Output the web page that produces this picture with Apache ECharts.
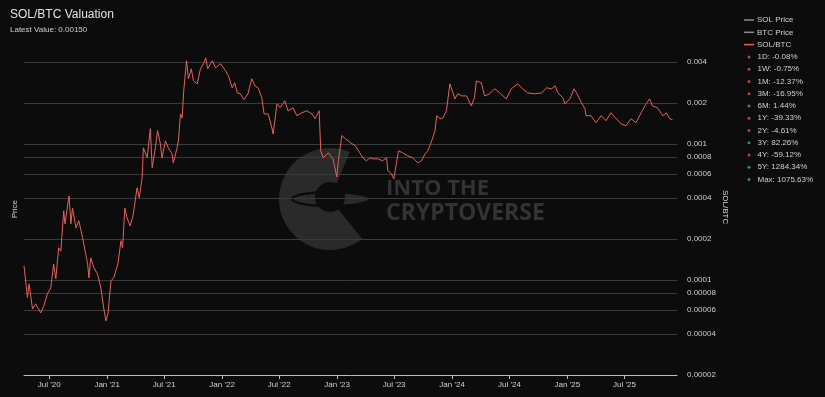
<!DOCTYPE html>
<html><head><meta charset="utf-8">
<script src="https://cdn.jsdelivr.net/npm/echarts@6/dist/echarts.min.js"></script>
<style>html,body{margin:0;padding:0;background:#0c0c0d}#c{width:825px;height:397px}</style>
</head><body><div id="c"></div>
<script>
const dates = ['2020-04-12','2020-04-23','2020-04-28','2020-05-09','2020-05-19','2020-06-04','2020-06-14','2020-06-25','2020-07-06','2020-07-15','2020-07-22','2020-07-31','2020-08-07','2020-08-16','2020-08-20','2020-09-02','2020-09-08','2020-09-13','2020-09-24','2020-10-03','2020-10-15','2020-10-31','2020-11-04','2020-11-10','2020-11-20','2020-12-01','2020-12-12','2020-12-21','2020-12-28','2021-01-04','2021-01-13','2021-01-22','2021-02-04','2021-02-14','2021-02-19','2021-02-26','2021-03-05','2021-03-15','2021-03-24','2021-04-06','2021-04-13','2021-04-22','2021-04-26','2021-05-08','2021-05-18','2021-05-24','2021-06-03','2021-06-10','2021-06-19','2021-06-24','2021-07-05','2021-07-14','2021-07-26','2021-07-30','2021-08-11','2021-08-15','2021-08-22','2021-08-27','2021-09-01','2021-09-10','2021-09-16','2021-09-25','2021-10-02','2021-10-14','2021-10-24','2021-11-03','2021-11-10','2021-11-16','2021-12-01','2021-12-11','2021-12-27','2022-01-12','2022-01-21','2022-02-02','2022-02-10','2022-02-18','2022-02-28','2022-03-11','2022-03-24','2022-04-05','2022-04-15','2022-04-25','2022-05-07','2022-05-14','2022-05-27','2022-06-08','2022-06-12','2022-06-24','2022-07-04','2022-07-19','2022-07-29','2022-08-14','2022-08-26','2022-09-11','2022-09-27','2022-10-13','2022-10-23','2022-11-05','2022-11-10','2022-11-18','2022-12-04','2022-12-19','2022-12-31','2023-01-05','2023-01-16','2023-01-27','2023-02-12','2023-02-28','2023-03-14','2023-03-23','2023-04-04','2023-04-15','2023-04-24','2023-05-10','2023-05-25','2023-06-07','2023-06-11','2023-06-23','2023-06-30','2023-07-08','2023-07-15','2023-07-28','2023-08-13','2023-08-29','2023-09-14','2023-09-26','2023-10-07','2023-10-16','2023-10-28','2023-11-08','2023-11-13','2023-11-24','2023-12-03','2023-12-14','2023-12-18','2023-12-25','2024-01-04','2024-01-10','2024-01-19','2024-02-01','2024-02-16','2024-03-02','2024-03-12','2024-03-18','2024-04-03','2024-04-13','2024-04-29','2024-05-15','2024-05-31','2024-06-21','2024-07-07','2024-07-27','2024-08-12','2024-08-28','2024-09-20','2024-10-11','2024-10-27','2024-11-12','2024-11-23','2024-12-02','2024-12-18','2024-12-24','2025-01-09','2025-01-22','2025-01-30','2025-02-15','2025-02-26','2025-03-01','2025-03-17','2025-04-02','2025-04-18','2025-05-04','2025-05-19','2025-06-05','2025-06-21','2025-07-06','2025-07-22','2025-08-07','2025-08-23','2025-09-08','2025-09-19','2025-09-28','2025-10-14','2025-10-31','2025-11-11','2025-11-22','2025-12-01'];
const solBtc = [0.000127,0.0000741,0.0000935,0.0000612,0.0000667,0.0000572,0.0000644,0.0000789,0.0000873,0.000131,0.0001017,0.000172,0.000163,0.000322,0.000258,0.000415,0.000258,0.000338,0.000241,0.000272,0.000204,0.000131,0.0001035,0.000145,0.000123,0.000111,0.0000873,0.0000622,0.0000500,0.0000572,0.0000984,0.0001035,0.000131,0.000194,0.000172,0.000338,0.000286,0.000249,0.000296,0.000475,0.000401,0.000562,0.000935,0.000789,0.00129,0.000667,0.000935,0.00125,0.00100,0.000789,0.00105,0.000935,0.000844,0.000725,0.000935,0.00105,0.00166,0.00155,0.00245,0.00408,0.00301,0.00356,0.00290,0.00276,0.00356,0.00388,0.00429,0.00356,0.00408,0.00362,0.00388,0.00344,0.00316,0.00258,0.00281,0.00237,0.00233,0.00211,0.00233,0.00301,0.00267,0.00258,0.00218,0.00166,0.00166,0.00131,0.00118,0.00197,0.00184,0.00207,0.00175,0.00184,0.00161,0.00169,0.00175,0.00166,0.00153,0.00175,0.000889,0.000789,0.000859,0.000776,0.000572,0.000750,0.00115,0.00109,0.00102,0.000967,0.000859,0.000789,0.000750,0.000789,0.000776,0.000776,0.000750,0.000789,0.000633,0.000602,0.000553,0.000713,0.000889,0.000859,0.000816,0.000789,0.000725,0.000750,0.000844,0.000889,0.00105,0.00125,0.00161,0.00153,0.00155,0.00175,0.00181,0.00276,0.00237,0.00214,0.00233,0.00225,0.00225,0.00190,0.00218,0.00290,0.00281,0.00225,0.00233,0.00254,0.00237,0.00214,0.00254,0.00276,0.00254,0.00237,0.00233,0.00237,0.00258,0.00254,0.00267,0.00237,0.00218,0.00197,0.00214,0.00254,0.00237,0.00200,0.00181,0.00161,0.00161,0.00143,0.00161,0.00148,0.00169,0.00153,0.00140,0.00136,0.00153,0.00143,0.00169,0.00197,0.00214,0.00190,0.00184,0.00161,0.00169,0.00153,0.00150];
const yTickValues = [0.004,0.002,0.001,0.0008,0.0006,0.0004,0.0002,0.0001,0.00008,0.00006,0.00004,0.00002];
const yTickLabels = ['0.004','0.002','0.001','0.0008','0.0006','0.0004','0.0002','0.0001','0.00008','0.00006','0.00004','0.00002'];
const xTickDates = ['2020-07-01','2021-01-01','2021-07-01','2022-01-01','2022-07-01','2023-01-01','2023-07-01','2024-01-01','2024-07-01','2025-01-01','2025-07-01'];
const xTickLabels = ["Jul '20","Jan '21","Jul '21","Jan '22","Jul '22","Jan '23","Jul '23","Jan '24","Jul '24","Jan '25","Jul '25"];
const lineNames = ['SOL Price','BTC Price','SOL/BTC'];
const statNames = ['1D: -0.08%','1W: -0.75%','1M: -12.37%','3M: -16.95%','6M: 1.44%','1Y: -39.33%','2Y: -4.61%','3Y: 82.26%','4Y: -59.12%','5Y: 1284.34%','Max: 1075.63%'];
const statUp = [false,false,false,false,true,false,false,true,false,true,true];

const FONT = 'Liberation Sans';
const BG = '#0c0c0d';
const ts = s => Date.parse(s + 'T00:00:00Z');
const xTickVals = xTickDates.map(ts);
const chart = echarts.init(document.getElementById('c'), null, {renderer:'canvas'});

const statSeries = statNames.map((n,i) => ({
  name:n, type:'scatter', data:[], itemStyle:{color: statUp[i] ? '#4caf50' : '#d9534f'}
}));

const yLabelFor = v => {
  let best = 0, bd = Infinity;
  yTickValues.forEach((t,i) => { const d = Math.abs(Math.log(t) - Math.log(v)); if (d < bd) { bd = d; best = i; } });
  return bd < 0.01 ? yTickLabels[best] : '';
};

chart.setOption({
  backgroundColor: BG,
  animation: false,
  textStyle: {fontFamily: FONT},
  title: {
    text:'SOL/BTC Valuation', subtext:'Latest Value: 0.00150',
    left:5, top:4, itemGap:5,
    textStyle:{color:'#e2e2e2', fontSize:12, fontWeight:'normal', fontFamily:FONT},
    subtextStyle:{color:'#cfcfcf', fontSize:8, fontFamily:FONT}
  },
  legend: [
    {data:lineNames, orient:'vertical', left:739, top:10, icon:'rect', itemWidth:10, itemHeight:1.5,
     itemGap:2.3, textStyle:{color:'#d0d0d0', fontSize:8, lineHeight:10, padding:[0,0,0,-2], fontFamily:FONT}},
    {data:statNames, orient:'vertical', left:742.5, top:47, icon:'circle', itemWidth:3, itemHeight:3,
     itemGap:2.25, textStyle:{color:'#d0d0d0', fontSize:8, lineHeight:10, padding:[0,0,0,2], fontFamily:FONT}}
  ],
  grid: {left:24, right:148, top:28, bottom:22},
  xAxis: {
    type:'value', min:ts('2020-04-12'), max:ts('2025-12-15'), scale:true, z:5,
    axisLine:{lineStyle:{color:'#bdbdbd', width:1}},
    axisTick:{show:true, customValues:xTickVals, length:4, lineStyle:{color:'#bdbdbd'}},
    axisLabel:{customValues:xTickVals, color:'#cfcfcf', fontSize:8, margin:6, fontFamily:FONT,
      formatter: v => { const i = xTickVals.indexOf(v); return i >= 0 ? xTickLabels[i] : ''; }},
    splitLine:{show:false}
  },
  yAxis: {
    type:'log', logBase:10, position:'right', min:0.00002, max:0.0071, z:2,
    axisLine:{show:false},
    axisTick:{show:false, customValues:yTickValues},
    axisLabel:{show:true, customValues:yTickValues, color:'#cfcfcf', fontSize:8, margin:10, fontFamily:FONT,
      formatter: v => yLabelFor(v)},
    splitLine:{show:true, lineStyle:{color:'#3a3a3a', width:1}}
  },
  graphic: [
    {type:'sector', z:0, silent:true, shape:{cx:330, cy:199, r:51, r0:0, startAngle:51*Math.PI/180, endAngle:293*Math.PI/180, clockwise:true}, style:{fill:'#2a2a2a'}},
    {type:'ellipse', z:0, silent:true, shape:{cx:331, cy:199, rx:39, ry:7}, style:{fill:'#2a2a2a', stroke:'#0c0c0d', lineWidth:2}},
    {type:'circle', z:0, silent:true, shape:{cx:330, cy:197, r:15}, style:{fill:'#0c0c0d'}},
    {type:'ellipse', z:0, silent:true, shape:{cx:331, cy:199, rx:39, ry:7, }, style:{fill:null, stroke:'#0c0c0d', lineWidth:2}},
    {type:'text', z:0, silent:true, left:386, top:178, style:{text:'INTO THE', fill:'#333333', font:'bold 22px "Open Sans"'}},
    {type:'text', z:0, silent:true, left:386, top:202, style:{text:'CRYPTOVERSE', fill:'#333333', font:'bold 23px "Open Sans"'}},
    {type:'text', z:0, silent:true, left:11, top:200, rotation:Math.PI/2, style:{text:'Price', fill:'#d0d0d0', font:'8px "Liberation Sans"'}},
    {type:'text', z:0, silent:true, left:721, top:190, rotation:-Math.PI/2, style:{text:'SOL/BTC', fill:'#d0d0d0', font:'8px "Liberation Sans"'}}
  ],
  series: [
    {name:'SOL Price', type:'line', data:[], itemStyle:{color:'#8a8a8a'}, lineStyle:{color:'#8a8a8a'}},
    {name:'BTC Price', type:'line', data:[], itemStyle:{color:'#8a8a8a'}, lineStyle:{color:'#8a8a8a'}},
    {name:'SOL/BTC', type:'line', z:3, showSymbol:false, symbol:'none',
     data: dates.map((d,i) => [ts(d), solBtc[i]]),
     itemStyle:{color:'#e3625b'}, lineStyle:{color:'#e3625b', width:1}}
  ].concat(statSeries)
});
</script></body></html>
